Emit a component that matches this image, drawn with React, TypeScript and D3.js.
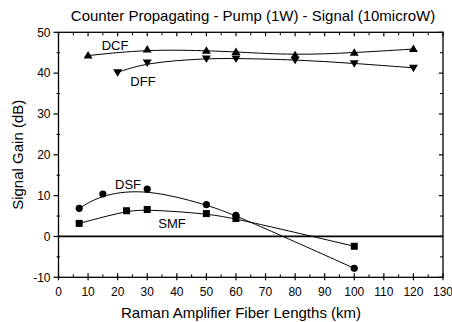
import React from "react";
import * as d3 from "d3";

const W = 452;
const H = 322;

const title = "Counter Propagating - Pump (1W) - Signal (10microW)";
const xLabel = "Raman Amplifier Fiber Lengths (km)";
const yLabel = "Signal Gain (dB)";

const xTicks = [0, 10, 20, 30, 40, 50, 60, 70, 80, 90, 100, 110, 120, 130];
const yTicks = [-10, 0, 10, 20, 30, 40, 50];

const dcfX = [10, 30, 50, 60, 80, 100, 120];
const dcfY = [44.3, 45.8, 45.5, 45.2, 44.4, 45.0, 45.9];

const dffX = [20, 30, 50, 60, 80, 100, 120];
const dffY = [40.2, 42.6, 43.6, 43.6, 43.3, 42.4, 41.3];

const dsfX = [7, 15, 30, 50, 60, 100];
const dsfY = [6.9, 10.4, 11.6, 7.8, 5.2, -7.8];

const smfX = [7, 23, 30, 50, 60, 100];
const smfY = [3.2, 6.3, 6.6, 5.6, 4.4, -2.4];

const labels = [
  { text: "DCF", x: 115, y: 45 },
  { text: "DFF", x: 143, y: 81 },
  { text: "DSF", x: 128, y: 184 },
  { text: "SMF", x: 172, y: 223 },
];

const FONT = "Liberation Sans, Arial, sans-serif";

export default function App() {
  const x = d3.scaleLinear().domain([0, 130]).range([58.5, 443]);
  const y = d3.scaleLinear().domain([-10, 50]).range([277.3, 32.3]);
  const line = d3
    .line<[number, number]>()
    .x((d) => x(d[0]))
    .y((d) => y(d[1]))
    .curve(d3.curveBasis);

  const pts = (xs: number[], ys: number[]) => xs.map((v, i) => [v, ys[i]] as [number, number]);

  const minorX = d3.range(5, 130, 10);
  const minorY = d3.range(-5, 50, 10);

  const x0 = x(0), x1 = x(130), yb = y(-10), yt = y(50);

  const triUp = (cx: number, cy: number) =>
    `M${cx},${cy - 4.5}L${cx + 4.5},${cy + 3}L${cx - 4.5},${cy + 3}Z`;
  const triDown = (cx: number, cy: number) =>
    `M${cx},${cy + 4.5}L${cx + 4.5},${cy - 3}L${cx - 4.5},${cy - 3}Z`;

  return (
    <svg
      width={W}
      height={H}
      style={{ position: "absolute", left: 0, top: 0, background: "#fff" }}
      fontFamily={FONT}
    >
      <rect width={W} height={H} fill="#fff" />
      <text x={253} y={21} fontSize={15} textAnchor="middle" fill="#000">
        {title}
      </text>

      {/* frame */}
      <rect x={x0} y={yt} width={x1 - x0} height={yb - yt} fill="none" stroke="#000" strokeWidth={1.3} />

      {/* bottom ticks */}
      {xTicks.map((t) => (
        <g key={"bx" + t}>
          <line x1={x(t)} x2={x(t)} y1={yb - 4} y2={yb + 3} stroke="#000" strokeWidth={1.2} />
          <line x1={x(t)} x2={x(t)} y1={yt} y2={yt + 4} stroke="#000" strokeWidth={1.2} />
          <text x={x(t)} y={yb + 19} fontSize={12} textAnchor="middle" fill="#000">
            {t}
          </text>
        </g>
      ))}
      {minorX.map((t) => (
        <g key={"mx" + t}>
          <line x1={x(t)} x2={x(t)} y1={yb - 3} y2={yb} stroke="#000" strokeWidth={1} />
          <line x1={x(t)} x2={x(t)} y1={yt} y2={yt + 3} stroke="#000" strokeWidth={1} />
        </g>
      ))}

      {/* left ticks */}
      {yTicks.map((t) => (
        <g key={"ly" + t}>
          <line x1={x0 - 5} x2={x0} y1={y(t)} y2={y(t)} stroke="#000" strokeWidth={1.2} />
          <line x1={x1 - 4} x2={x1} y1={y(t)} y2={y(t)} stroke="#000" strokeWidth={1.2} />
          <text x={x0 - 8} y={y(t)} dy="0.35em" fontSize={12} textAnchor="end" fill="#000">
            {t}
          </text>
        </g>
      ))}
      {minorY.map((t) => (
        <g key={"my" + t}>
          <line x1={x0 - 2} x2={x0 + 1.5} y1={y(t)} y2={y(t)} stroke="#000" strokeWidth={1} />
          <line x1={x1 - 3} x2={x1} y1={y(t)} y2={y(t)} stroke="#000" strokeWidth={1} />
        </g>
      ))}

      {/* zero line */}
      <line x1={x0} x2={x1} y1={y(0)} y2={y(0)} stroke="#000" strokeWidth={1.8} />

      {/* curves */}
      <path d={line(pts(dcfX, dcfY)) || ""} fill="none" stroke="#000" strokeWidth={1} />
      <path d={line(pts(dffX, dffY)) || ""} fill="none" stroke="#000" strokeWidth={1} />
      <path d={line(pts(dsfX, dsfY)) || ""} fill="none" stroke="#000" strokeWidth={1} />
      <path d={line(pts(smfX, smfY)) || ""} fill="none" stroke="#000" strokeWidth={1} />

      {/* markers */}
      {dcfX.map((v, i) => (
        <path key={"dcf" + i} d={triUp(x(v), y(dcfY[i]))} fill="#000" />
      ))}
      {dffX.map((v, i) => (
        <path key={"dff" + i} d={triDown(x(v), y(dffY[i]))} fill="#000" />
      ))}
      {dsfX.map((v, i) => (
        <circle key={"dsf" + i} cx={x(v)} cy={y(dsfY[i])} r={3.6} fill="#000" />
      ))}
      {smfX.map((v, i) => (
        <rect key={"smf" + i} x={x(v) - 3.5} y={y(smfY[i]) - 3.5} width={7} height={7} fill="#000" />
      ))}

      {labels.map((l) => (
        <text key={l.text} x={l.x} y={l.y} dy="0.35em" fontSize={13} textAnchor="middle" fill="#000">
          {l.text}
        </text>
      ))}

      <text x={241} y={318} fontSize={15} textAnchor="middle" fill="#000">
        {xLabel}
      </text>
      <text
        transform={`translate(23,${(yt + yb) / 2}) rotate(-90)`}
        fontSize={15}
        textAnchor="middle"
        fill="#000"
      >
        {yLabel}
      </text>
    </svg>
  );
}
